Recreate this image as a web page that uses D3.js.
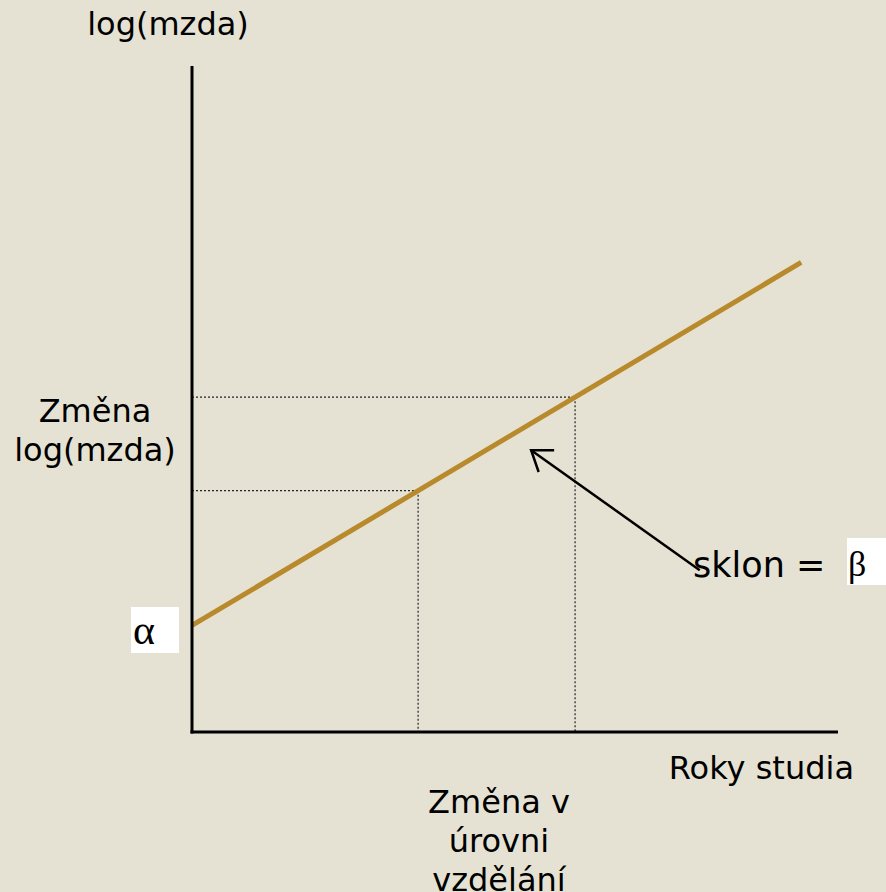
<!DOCTYPE html>
<html>
<head>
<meta charset="utf-8">
<script src="https://cdn.jsdelivr.net/npm/d3@7"></script>
<style>
html,body{margin:0;padding:0;background:#E5E2D3;}
svg{display:block;}
</style>
</head>
<body>
<script>
// Conceptual data (abstract units)
const alpha = 1.6;          // intercept
const beta = 0.578;         // slope
const xDomain = [0, 10];
const yDomain = [0, 10];
const lineXs = [0, 9.43];   // extent of regression line
const markXs = [3.5, 5.93]; // two education levels
const arrowFrom = [7.86, 2.43];
const arrowTo = [5.25, 4.23];
const labels = {
  yTitle: "log(mzda)",
  xTitle: "Roky studia",
  yChange: ["Změna", "log(mzda)"],
  xChange: ["Změna v", "úrovni", "vzdělání"],
  slope: "sklon =",
  alphaSym: "α",
  betaSym: "β"
};

const W = 886, H = 892;
const svg = d3.select("body").append("svg").attr("width", W).attr("height", H);
svg.append("rect").attr("width", W).attr("height", H).attr("fill", "#E5E2D3");

const x = d3.scaleLinear().domain(xDomain).range([192, 838]);
const y = d3.scaleLinear().domain(yDomain).range([732, 66]);
const f = v => alpha + beta * v;

const font = "'DejaVu Sans', Verdana, sans-serif";
const serif = "'Liberation Serif', 'DejaVu Serif', serif";

// dotted guides
markXs.forEach(v => {
  svg.append("line").attr("x1", x(0)).attr("x2", x(v)).attr("y1", y(f(v))).attr("y2", y(f(v)))
    .attr("stroke", "#222").attr("stroke-width", 1.2).attr("stroke-dasharray", "2,2");
  svg.append("line").attr("x1", x(v)).attr("x2", x(v)).attr("y1", y(f(v))).attr("y2", y(0))
    .attr("stroke", "#222").attr("stroke-width", 1.2).attr("stroke-dasharray", "2,2");
});

// regression line
svg.append("line")
  .attr("x1", x(lineXs[0])).attr("y1", y(f(lineXs[0])))
  .attr("x2", x(lineXs[1])).attr("y2", y(f(lineXs[1])))
  .attr("stroke", "#B88A2C").attr("stroke-width", 5);

// axes
svg.append("line").attr("x1", x(0)).attr("x2", x(0)).attr("y1", y(yDomain[1])).attr("y2", y(0) + 1.5)
  .attr("stroke", "#000").attr("stroke-width", 3);
svg.append("line").attr("x1", x(0) - 1.5).attr("x2", x(xDomain[1])).attr("y1", y(0)).attr("y2", y(0))
  .attr("stroke", "#000").attr("stroke-width", 3);

// arrow
const ax1 = x(arrowFrom[0]), ay1 = y(arrowFrom[1]), ax2 = x(arrowTo[0]), ay2 = y(arrowTo[1]);
svg.append("line").attr("x1", ax1).attr("y1", ay1).attr("x2", ax2).attr("y2", ay2)
  .attr("stroke", "#000").attr("stroke-width", 2.5);
const ang = Math.atan2(ay1 - ay2, ax1 - ax2);
const hl = 23, spread = 0.62;
const hp = [
  [ax2 + hl * Math.cos(ang - spread), ay2 + hl * Math.sin(ang - spread)],
  [ax2, ay2],
  [ax2 + hl * Math.cos(ang + spread), ay2 + hl * Math.sin(ang + spread)]
];
svg.append("path").attr("d", d3.line()(hp)).attr("fill", "none")
  .attr("stroke", "#000").attr("stroke-width", 2.5).attr("stroke-linejoin", "miter");

// texts
const txt = (s, tx, ty, anchor, size) => svg.append("text").attr("x", tx).attr("y", ty)
  .attr("text-anchor", anchor).attr("font-family", font).attr("font-size", size)
  .attr("fill", "#000").text(s);

txt(labels.yTitle, 168, 35, "middle", 32);
txt(labels.xTitle, 854, 779, "end", 32);
labels.yChange.forEach((s, i) => txt(s, 95, 422 + i * 39, "middle", 32));
labels.xChange.forEach((s, i) => txt(s, 499, 813 + i * 39, "middle", 32));
txt(labels.slope, 693, 577, "start", 35);

// alpha box
svg.append("rect").attr("x", 131).attr("y", 607).attr("width", 48).attr("height", 46).attr("fill", "#fff");
svg.append("text").attr("x", 133).attr("y", 644).attr("font-family", serif)
  .attr("font-size", 42).attr("fill", "#000").text(labels.alphaSym);
// beta box
svg.append("rect").attr("x", 847).attr("y", 538).attr("width", 39).attr("height", 47).attr("fill", "#fff");
svg.append("text").attr("x", 848).attr("y", 576).attr("font-family", serif)
  .attr("font-size", 36).attr("fill", "#000").text(labels.betaSym);
</script>
</body>
</html>
